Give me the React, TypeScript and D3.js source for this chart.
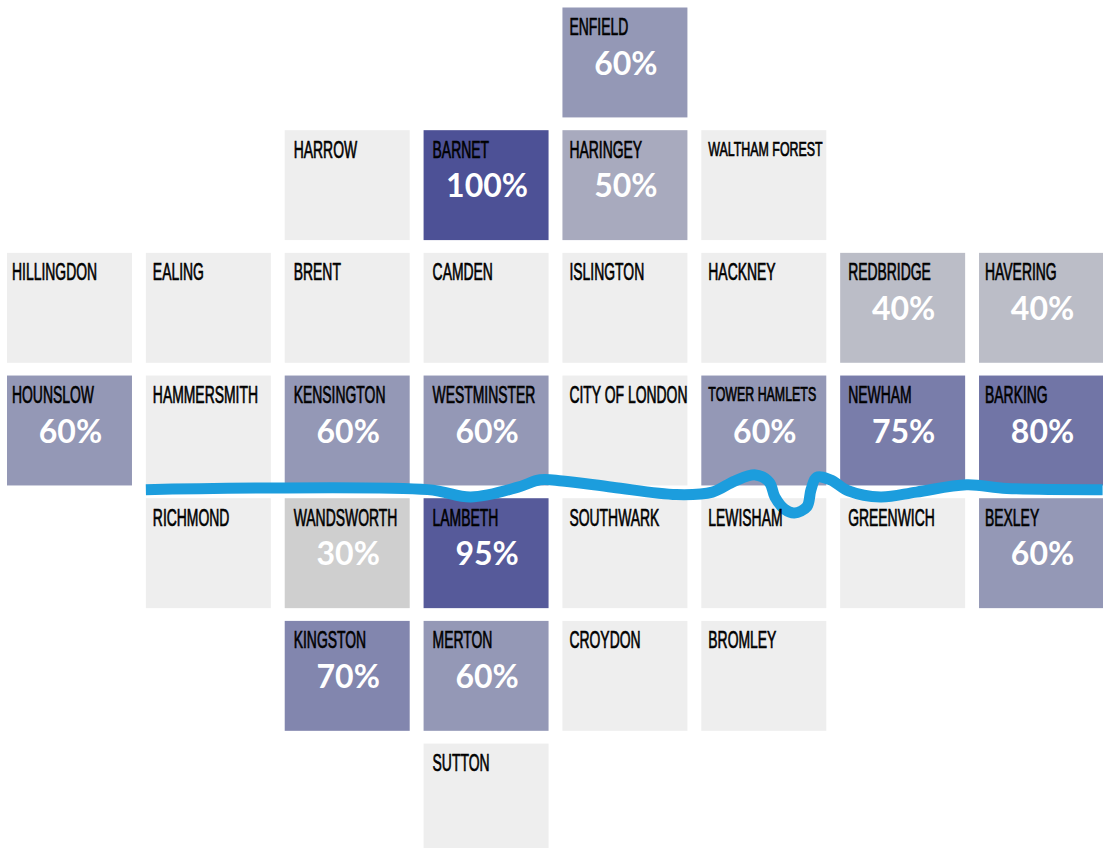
import { useEffect, useRef } from "react"
import * as d3 from "d3"

const boroughs = [
  "ENFIELD",
  "HARROW", "BARNET", "HARINGEY", "WALTHAM FOREST",
  "HILLINGDON", "EALING", "BRENT", "CAMDEN", "ISLINGTON", "HACKNEY", "REDBRIDGE", "HAVERING",
  "HOUNSLOW", "HAMMERSMITH", "KENSINGTON", "WESTMINSTER", "CITY OF LONDON", "TOWER HAMLETS", "NEWHAM", "BARKING",
  "RICHMOND", "WANDSWORTH", "LAMBETH", "SOUTHWARK", "LEWISHAM", "GREENWICH", "BEXLEY",
  "KINGSTON", "MERTON", "CROYDON", "BROMLEY",
  "SUTTON",
]
const columns = [
  4,
  2, 3, 4, 5,
  0, 1, 2, 3, 4, 5, 6, 7,
  0, 1, 2, 3, 4, 5, 6, 7,
  1, 2, 3, 4, 5, 6, 7,
  2, 3, 4, 5,
  3,
]
const rows = [
  0,
  1, 1, 1, 1,
  2, 2, 2, 2, 2, 2, 2, 2,
  3, 3, 3, 3, 3, 3, 3, 3,
  4, 4, 4, 4, 4, 4, 4,
  5, 5, 5, 5,
  6,
]
const percents: (number | null)[] = [
  60,
  null, 100, 50, null,
  null, null, null, null, null, null, 40, 40,
  60, null, 60, 60, null, 60, 75, 80,
  null, 30, 95, null, null, null, 60,
  70, 60, null, null,
  null,
]

// the Thames, in grid units (column, row)
const riverCol = [1, 3.03, 3.34, 3.68, 3.84, 4.0, 4.36, 4.82, 5.08, 5.24, 5.39, 5.49, 5.53, 5.6, 5.67, 5.76, 5.79, 5.83, 5.93, 6.06, 6.29, 6.55, 6.91, 7.2, 7.89]
const riverRow = [3.93, 3.93, 3.99, 3.91, 3.85, 3.86, 3.91, 3.97, 3.95, 3.86, 3.81, 3.87, 3.99, 4.09, 4.12, 4.07, 3.93, 3.83, 3.85, 3.94, 3.99, 3.95, 3.89, 3.92, 3.93]

const labelOffset = [5, 7, 9, 9, 7, 7, 8, 6]
const smallLabels = ["WALTHAM FOREST", "TOWER HAMLETS"]

export default function App() {
  const svgRef = useRef<SVGSVGElement>(null)

  useEffect(() => {
    if (!svgRef.current) return

    const svg = d3.select(svgRef.current)
    svg.selectAll("*").remove()

    const x = d3.scaleBand<number>().domain(d3.range(8)).range([7, 1104]).paddingInner(0.1)
    const y = d3.scaleBand<number>().domain(d3.range(7)).range([7.5, 853.5]).paddingInner(0.104)
    const color = d3
      .scaleLinear<string>()
      .domain([30, 60, 100])
      .range(["#cfcfcf", "#9498b6", "#4d5196"])

    const riverX = d3.scaleLinear().domain([0, 1]).range([x(0)!, x(1)!])
    const riverY = d3.scaleLinear().domain([0, 1]).range([y(0)!, y(1)!])

    const tiles = boroughs.map((name, i) => ({
      name,
      col: columns[i],
      row: rows[i],
      pct: percents[i],
    }))

    svg
      .append("g")
      .selectAll("rect")
      .data(tiles)
      .enter()
      .append("rect")
      .attr("x", (d) => x(d.col)!)
      .attr("y", (d) => y(d.row)!)
      .attr("width", x.bandwidth())
      .attr("height", y.bandwidth())
      .attr("fill", (d) => (d.pct === null ? "#eeeeee" : color(d.pct)))

    const line = d3
      .line<number>()
      .x((d) => riverX(d))
      .y((_, i) => riverY(riverRow[i]))
      .curve(d3.curveCatmullRom.alpha(0.5))

    svg
      .append("path")
      .attr("d", line(riverCol))
      .attr("fill", "none")
      .attr("stroke", "#1c9ddd")
      .attr("stroke-width", 11)

    // no condensed face is installed, so squeeze Liberation Sans
    svg
      .append("g")
      .selectAll("text")
      .data(tiles)
      .enter()
      .append("text")
      .attr("transform", (d) => {
        const small = smallLabels.includes(d.name)
        return `translate(${x(d.col)! + labelOffset[d.col]},${y(d.row)! + (small ? 25.5 : 27.5)}) scale(${small ? 0.62 : 0.58},1)`
      })
      .attr("font-family", "'Liberation Sans', sans-serif")
      .attr("font-size", (d) => (smallLabels.includes(d.name) ? 20 : 24))
      .attr("fill", "#000000")
      .attr("stroke", "#000000")
      .attr("stroke-width", 0.7)
      .text((d) => d.name)

    svg
      .append("g")
      .selectAll("text")
      .data(tiles.filter((d) => d.pct !== null))
      .enter()
      .append("text")
      .attr("x", (d) => x(d.col)! + x.bandwidth() / 2 + 1)
      .attr("y", (d) => y(d.row)! + 67)
      .attr("text-anchor", "middle")
      .attr("font-family", "Lato, 'Open Sans', sans-serif")
      .attr("font-weight", 700)
      .attr("font-size", 32)
      .attr("fill", "#ffffff")
      .text((d) => `${d.pct}%`)
  }, [])

  return (
    <svg
      ref={svgRef}
      width={1103}
      height={848}
      style={{ position: "absolute", left: 0, top: 0, background: "#fff" }}
    />
  )
}
